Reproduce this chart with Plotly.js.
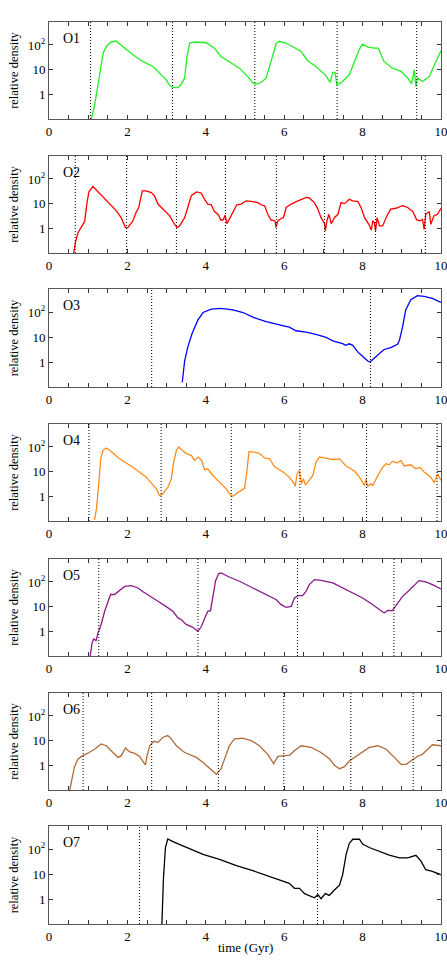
<!DOCTYPE html>
<html>
<head>
<meta charset="utf-8">
<script src="https://cdn.plot.ly/plotly-3.0.1.min.js"></script>
<style>
  body { margin: 0; background: #fff; }
  #figure { width: 447px; height: 972px; }
</style>
</head>
<body>
<div id="figure"></div>
<script>
// Relative density vs time for the seven orbits, pericentre passages as dotted lines
const t1 = [1.08,1.16,1.27,1.38,1.46,1.59,1.72,1.89,2.14,2.40,2.65,2.91,2.99,3.08,3.16,3.29,3.37,3.46,3.52,3.59,3.76,4.01,4.22,4.39,4.61,4.86,5.07,5.20,5.29,5.41,5.54,5.67,5.80,5.88,6.05,6.22,6.43,6.60,6.81,7.07,7.17,7.24,7.30,7.34,7.45,7.66,7.79,7.92,8.00,8.13,8.30,8.40,8.55,8.76,8.98,9.15,9.25,9.32,9.36,9.40,9.53,9.70,9.87,10.0];
const rho1 = [0.1,0.33,3.9,46,85,135,141,85,40,21,13.5,5.2,3.9,2.2,1.9,1.86,2.5,4.6,34,123,132,123,74,34,20,11.5,5.2,2.9,2.6,3.0,4.6,25,117,141,117,85,54,23,13.5,5.6,3.0,7.8,7.8,2.5,2.9,6.2,21,68,107,81,74,74,21,11.5,8.5,4.6,2.7,9.8,2.1,4.6,3.3,5.2,21,58];
const peri1 = [1.06,3.15,5.25,7.35,9.38];

const t2 = [0.63,0.68,0.74,0.85,0.91,0.97,1.02,1.12,1.21,1.46,1.72,1.84,1.95,2.01,2.14,2.22,2.29,2.38,2.48,2.61,2.69,2.78,2.91,3.08,3.21,3.27,3.33,3.46,3.54,3.63,3.76,3.88,3.97,4.05,4.14,4.22,4.31,4.39,4.45,4.49,4.54,4.60,4.69,4.79,4.90,5.03,5.20,5.33,5.41,5.50,5.58,5.67,5.73,5.77,5.79,5.84,5.92,5.98,6.05,6.18,6.31,6.43,6.56,6.64,6.77,6.86,6.94,7.03,7.05,7.09,7.14,7.20,7.28,7.37,7.45,7.54,7.66,7.75,7.88,7.96,8.05,8.16,8.22,8.26,8.30,8.33,8.37,8.43,8.51,8.64,8.72,8.85,9.02,9.15,9.28,9.38,9.46,9.53,9.57,9.61,9.70,9.74,9.82,9.91,10.0];
const rho2 = [0.1,0.3,0.66,1.25,1.9,11,31,49,35,13,5.1,2.7,1.07,1.07,2.0,4.4,7,33,33,28,21,9.6,6,3.2,1.4,1.07,1.25,2.7,7,21,30,27,15,9.6,9,4.8,3.7,2.1,2.3,3.4,1.55,2.3,4.4,9,9.6,13,12,11,9,8.2,3.7,2.1,2.1,1.9,1.1,2.0,2.5,2.7,7,9.6,12,15,18,17,11,6,2.7,1.55,0.78,2.0,3.7,1.55,2.7,3.7,11,10,15,13,12,7,2.7,1.45,0.85,2.0,1.7,0.78,2.7,1.25,1.25,3.7,6,6.5,8.2,7,4.8,2.2,2.0,2.3,0.9,3.7,4.8,1.45,3.2,3.7,6.5];
const peri2 = [0.67,1.98,3.25,4.50,5.80,7.03,8.33,9.60];

const t3 = [3.40,3.46,3.54,3.65,3.80,3.93,4.14,4.39,4.69,4.95,5.20,5.54,5.88,6.13,6.30,6.56,6.81,7.07,7.24,7.49,7.57,7.66,7.75,7.88,8.00,8.13,8.19,8.30,8.43,8.55,8.72,8.89,8.94,9.02,9.10,9.23,9.40,9.57,9.78,10.0];
const rho3 = [0.155,1.1,4.0,14,49,97,132,141,124,97,63,42,31,25,18,16,13,9.7,7.1,5.5,4.7,5.4,4.7,2.5,1.7,1.1,1.0,1.5,2.2,3.2,3.8,5.2,7.5,26,124,316,460,433,356,246];
const peri3 = [2.62,8.20];

const t4 = [1.16,1.21,1.28,1.32,1.38,1.46,1.55,1.80,2.14,2.48,2.74,2.82,2.90,3.03,3.12,3.18,3.25,3.31,3.40,3.50,3.63,3.71,3.81,3.90,3.97,4.05,4.18,4.35,4.52,4.63,4.69,4.82,4.99,5.05,5.10,5.20,5.37,5.50,5.63,5.75,5.97,6.13,6.26,6.28,6.33,6.39,6.44,6.49,6.54,6.64,6.73,6.81,6.90,7.03,7.24,7.41,7.49,7.58,7.70,7.79,7.92,8.05,8.09,8.13,8.22,8.26,8.39,8.51,8.60,8.68,8.76,8.89,8.98,9.06,9.23,9.36,9.46,9.57,9.74,9.83,9.91,10.0];
const rho4 = [0.11,0.3,5.1,33,73,91,73,33,15,6,2.0,1.06,1.25,2.3,5.1,24,73,100,73,54,46,29,39,27,12,13,7,3.7,2.0,1.13,1.0,1.45,2.1,11,63,63,54,36,33,16,9.6,6,3.2,2.5,8.1,11,3.2,5.1,2.9,4.4,7,24,39,36,31,33,24,17,13,10.5,6,2.7,5.1,2.6,3.2,2.7,7,15,21,19,26,23,28,17,19,13,15,9.6,6,3.5,8.1,4.4];
const peri4 = [1.02,2.86,4.65,6.40,8.10,9.90];

const t5 = [1.05,1.10,1.14,1.20,1.25,1.33,1.42,1.50,1.57,1.67,1.80,1.93,2.10,2.27,2.40,2.57,2.78,2.99,3.16,3.29,3.37,3.50,3.67,3.80,3.89,3.97,4.05,4.12,4.18,4.25,4.33,4.39,4.61,4.86,5.20,5.54,5.80,5.92,6.05,6.18,6.26,6.35,6.47,6.56,6.64,6.77,6.94,7.24,7.49,7.75,8.00,8.26,8.47,8.55,8.64,8.76,8.85,8.94,9.02,9.19,9.36,9.44,9.61,9.78,10.0];
const rho5 = [0.1,0.34,0.49,0.42,0.86,1.9,6.5,16.5,31,31,45,66,71,57,40,26,16.5,10,6.5,3.5,3.0,1.9,1.45,1.0,1.6,3.3,6.5,6.9,31,113,218,230,155,107,57,31,19,12,9.4,10.3,22.5,28,28,42,78,124,116,91,57,36,22.5,12,7.1,5.5,7.1,6.9,11,16.5,26,46,85,113,100,78,52];
const peri5 = [1.27,3.80,6.34,8.80];

const t6 = [0.53,0.59,0.65,0.74,0.85,0.99,1.16,1.33,1.46,1.63,1.76,1.84,1.95,2.06,2.18,2.31,2.40,2.46,2.50,2.57,2.67,2.78,2.91,3.03,3.12,3.25,3.46,3.76,3.93,4.10,4.27,4.39,4.48,4.60,4.73,4.94,5.16,5.37,5.58,5.73,5.84,6.01,6.14,6.26,6.43,6.69,6.94,7.16,7.28,7.41,7.54,7.66,7.92,8.17,8.39,8.60,8.81,8.98,9.11,9.23,9.40,9.53,9.66,9.78,10.0];
const rho6 = [0.1,0.36,0.88,1.8,2.4,3.1,4.5,7.3,6.2,3.3,2.1,2.4,5.0,3.5,3.1,2.3,1.5,1.03,2.4,6.2,9.4,8.5,13.7,16,11.7,6.2,3.3,2.1,1.3,0.73,0.43,0.73,1.8,6.2,11.7,12.5,10,6.2,2.8,1.17,2.3,2.4,2.6,3.9,6.2,5.3,3.3,1.8,1.0,0.73,0.88,1.5,2.8,5.3,6.2,4.5,2.1,1.1,1.1,1.5,2.3,2.8,4.3,6.8,6.2];
const peri6 = [0.87,2.62,4.32,5.99,7.70,9.29];

const t7 = [2.88,2.92,2.97,3.03,3.16,3.50,3.93,4.35,4.78,5.20,5.54,5.88,6.13,6.26,6.39,6.52,6.69,6.77,6.86,6.94,7.05,7.15,7.28,7.41,7.49,7.58,7.66,7.75,7.92,8.00,8.17,8.43,8.68,8.94,9.15,9.36,9.49,9.61,9.78,10.0];
const rho7 = [0.1,6.8,117,257,200,117,62,39,22,13.7,8.8,5.8,4.3,2.7,2.7,1.65,1.29,1.13,1.5,1.03,1.65,1.4,2.3,3.6,9.4,62,170,250,250,160,117,80,58,45,45,57,33,15,12.8,9.4];
const peri7 = [2.31,6.85];

const labels = ["O1","O2","O3","O4","O5","O6","O7"];
const colors = ["#22ee22","#ff0000","#0000ff","#ff8c1a","#8b1a8b","#b06b3a","#000000"];
const yTicks = [1, 10, 100];
const yTickText = ["1", "10", "10<sup>2</sup>"];

var times = [t1, t2, t3, t4, t5, t6, t7];
var dens = [rho1, rho2, rho3, rho4, rho5, rho6, rho7];
var peris = [peri1, peri2, peri3, peri4, peri5, peri6, peri7];

// x ticks every 0.5 Gyr, labelled every 2 Gyr
var xTicks = [];
var xTickText = [];
for (let k = 0; k <= 20; k++) {
  xTicks.push(k / 2);
  xTickText.push(k % 4 === 0 ? String(k / 2) : " ");
}

var boxTop = [22, 156, 289, 424, 559, 693, 826];
var boxBot = [119, 253, 387, 521, 656, 790, 924];
var marginT = 22, marginB = 48;
var plotH = 972 - marginT - marginB;

var font = "Liberation Serif, Times New Roman, serif";
var traces = [];
var shapes = [];
var annotations = [];
var layout = {
  width: 447,
  height: 972,
  margin: {l: 49, r: 6, t: marginT, b: marginB},
  paper_bgcolor: "white",
  plot_bgcolor: "white",
  showlegend: false,
  font: {family: font, size: 13, color: "#000"}
};

for (let i = 0; i < 7; i++) {
  let n = i === 0 ? "" : String(i + 1);
  traces.push({
    x: times[i],
    y: dens[i],
    xaxis: "x" + n,
    yaxis: "y" + n,
    type: "scatter",
    mode: "lines",
    line: {color: colors[i], width: 1.3},
    hoverinfo: "skip"
  });

  peris[i].forEach(function(p) {
    shapes.push({
      type: "line",
      xref: "x" + n,
      yref: "y" + n + " domain",
      x0: p, x1: p, y0: 0, y1: 1,
      line: {color: "#000", width: 1, dash: "1px,2px"}
    });
  });

  annotations.push({
    text: labels[i],
    xref: "x" + n + " domain",
    yref: "y" + n + " domain",
    x: 0.03, y: 0.83,
    xanchor: "left", yanchor: "middle",
    showarrow: false,
    font: {family: font, size: 14, color: "#000"}
  });

  let lo = (924 - boxBot[i]) / plotH;
  let hi = (924 - boxTop[i]) / plotH;

  layout["xaxis" + n] = {
    domain: [0, 1],
    anchor: "y" + n,
    range: [0, 10],
    tickvals: xTicks,
    ticktext: xTickText,
    ticks: "inside",
    ticklen: 4,
    tickcolor: "#333",
    ticklabeloverflow: "allow",
    showline: true,
    linecolor: "#555",
    linewidth: 1,
    mirror: "ticks",
    showgrid: false,
    zeroline: false,
    tickfont: {family: font, size: 13}
  };
  layout["yaxis" + n] = {
    domain: [lo, hi],
    anchor: "x" + n,
    type: "log",
    range: [-1, 2.93],
    tickvals: yTicks,
    ticktext: yTickText,
    ticks: "inside",
    ticklen: 4,
    tickcolor: "#333",
    showline: true,
    linecolor: "#555",
    linewidth: 1,
    mirror: "ticks",
    showgrid: false,
    zeroline: false,
    tickfont: {family: font, size: 13},
    title: {text: "relative density", font: {family: font, size: 12.5}, standoff: 6}
  };
}

// shared x title under the last panel
annotations.push({
  text: "time (Gyr)",
  xref: "paper", yref: "paper",
  x: 0.5, y: -0.0255,
  xanchor: "center", yanchor: "middle",
  showarrow: false,
  font: {family: font, size: 13, color: "#000"}
});

layout.shapes = shapes;
layout.annotations = annotations;

Plotly.newPlot(document.getElementById("figure"), traces, layout, {staticPlot: true});
</script>
</body>
</html>
